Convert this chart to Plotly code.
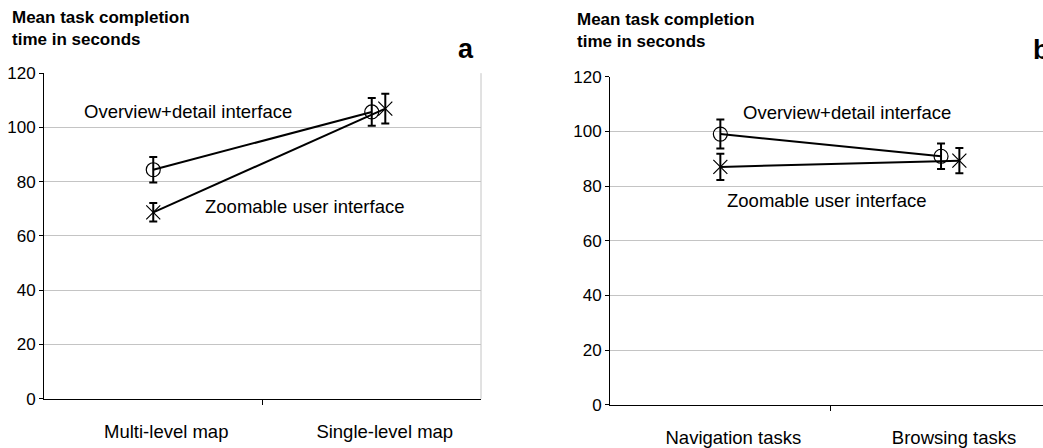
import plotly.graph_objects as go

# ---- data ----
cats_a = ["Multi-level map", "Single-level map"]
cats_b = ["Navigation tasks", "Browsing tasks"]

# x positions (category index; the zoomable series is drawn slightly offset at the 2nd category)
x_odi_a = [0, 1]
x_zui_a = [0, 1.062]
x_odi_b = [0, 1]
x_zui_b = [0, 1.083]

odi_a = [84.4, 105.7]
odi_a_err = [4.7, 5.1]
zui_a = [68.7, 106.9]
zui_a_err = [3.4, 5.5]

odi_b = [99.0, 90.9]
odi_b_err = [5.3, 4.7]
zui_b = [87.0, 89.3]
zui_b_err = [4.8, 4.6]

y_ticks = [0, 20, 40, 60, 80, 100, 120]
series_names = ["Overview+detail interface", "Zoomable user interface"]
y_title = "Mean task completion<br>time in seconds"

FONT = "Liberation Sans, Arial, sans-serif"
W, H = 1043, 448

fig = go.Figure()


def add_series(x, y, err, symbol, size, xa, ya, name):
    fig.add_trace(go.Scatter(
        x=x, y=y, mode="lines+markers", name=name,
        xaxis=xa, yaxis=ya,
        line=dict(color="black", width=2),
        marker=dict(symbol=symbol, size=size, color="black",
                    line=dict(color="black", width=1.2)),
        error_y=dict(type="data", array=err, visible=True,
                     color="black", thickness=2, width=4),
        showlegend=False,
    ))


add_series(x_odi_a, odi_a, odi_a_err, "circle-open", 14, "x", "y", series_names[0])
add_series(x_zui_a, zui_a, zui_a_err, "x-thin-open", 14, "x", "y", series_names[1])
add_series(x_odi_b, odi_b, odi_b_err, "circle-open", 14, "x2", "y2", series_names[0])
add_series(x_zui_b, zui_b, zui_b_err, "x-thin-open", 14, "x2", "y2", series_names[1])


def px_x(p):
    return p / W


def px_y(p):
    return 1 - p / H


xaxis_common = dict(
    tickmode="array", tickvals=[0, 1], ticks="", showgrid=False, zeroline=False,
    showline=True, linecolor="black", linewidth=1,
    tickfont=dict(family=FONT, size=18.5, color="black"),
    ticklabelshift=13, ticklabelstandoff=16,
    minor=dict(tickmode="array", tickvals=[0.5], ticks="outside",
               ticklen=5, tickcolor="black", tickwidth=1, showgrid=False),
    fixedrange=True,
)
yaxis_common = dict(
    range=[0, 120], tickmode="array", tickvals=y_ticks, ticks="outside",
    ticklen=4, tickcolor="black", showline=True, linecolor="black", linewidth=1,
    showgrid=True, gridcolor="#c4c4c4", gridwidth=1, zeroline=False,
    tickfont=dict(family=FONT, size=17, color="black"), fixedrange=True,
)

fig.update_layout(
    width=W, height=H,
    margin=dict(l=0, r=0, t=0, b=0),
    paper_bgcolor="white", plot_bgcolor="white",
    font=dict(family=FONT, color="black"),
    xaxis=dict(xaxis_common, domain=[px_x(44), px_x(481)], range=[-0.5, 1.5],
               ticktext=cats_a, anchor="y"),
    yaxis=dict(yaxis_common, domain=[px_y(407), px_y(67)], anchor="x"),
    xaxis2=dict(xaxis_common, domain=[px_x(610), 1.0], range=[-0.5, 1.462],
                ticktext=cats_b, anchor="y2"),
    yaxis2=dict(yaxis_common, domain=[px_y(413.3), px_y(70.7)], anchor="x2"),
)

# light gray right border of panel a
fig.add_shape(type="line", xref="x domain", yref="y domain", x0=1, x1=1, y0=0, y1=1,
              line=dict(color="#c4c4c4", width=1))

ann_font = dict(family=FONT, size=18.5, color="black")
anns = [
    dict(text=y_title, x=px_x(10), y=px_y(-3), xanchor="left", yanchor="top", align="left",
         font=dict(family=FONT, size=17, color="black", weight="bold")),
    dict(text=y_title, x=px_x(575), y=px_y(-1), xanchor="left", yanchor="top", align="left",
         font=dict(family=FONT, size=17, color="black", weight="bold")),
    dict(text="<b>a</b>", x=px_x(466), y=px_y(42), xanchor="center", yanchor="middle",
         font=dict(family=FONT, size=27, color="black")),
    dict(text="<b>b</b>", x=px_x(1031), y=px_y(25), xanchor="left", yanchor="top",
         font=dict(family=FONT, size=27, color="black")),
    dict(text=series_names[0], x=px_x(82), y=px_y(107), xanchor="left", yanchor="middle",
         font=ann_font),
    dict(text=series_names[1], x=px_x(203), y=px_y(206), xanchor="left", yanchor="middle",
         font=ann_font),
    dict(text=series_names[0], x=px_x(741), y=px_y(108), xanchor="left", yanchor="middle",
         font=ann_font),
    dict(text=series_names[1], x=px_x(725), y=px_y(200), xanchor="left", yanchor="middle",
         font=ann_font),
]
for a in anns:
    fig.add_annotation(xref="paper", yref="paper", showarrow=False, **a)

fig.write_html("out.html")
